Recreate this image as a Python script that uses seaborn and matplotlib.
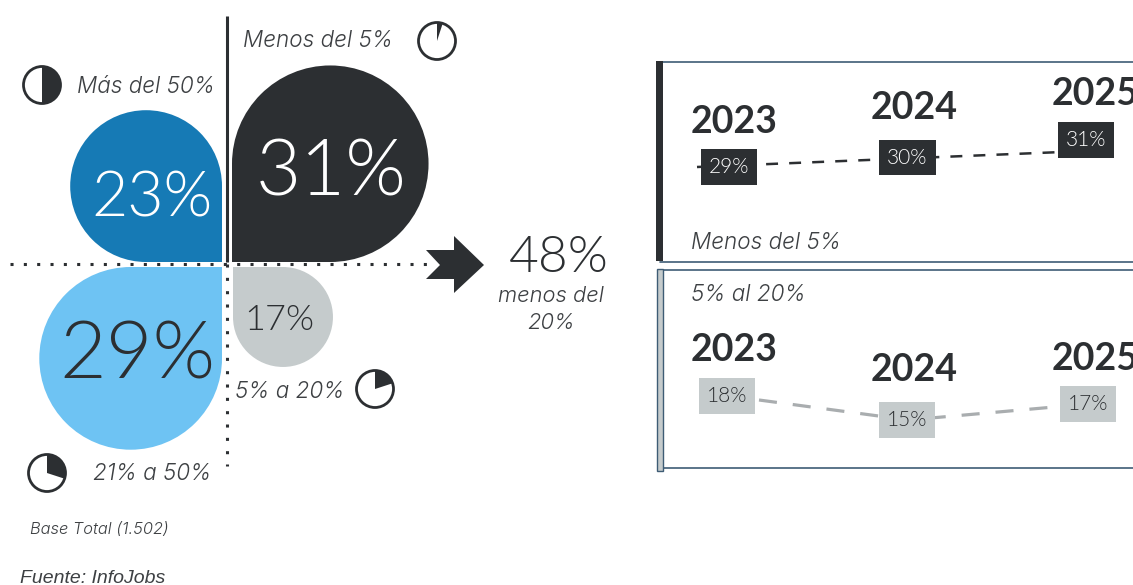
import matplotlib
matplotlib.use("Agg")
import matplotlib.pyplot as plt
from matplotlib.patches import Circle, Rectangle, Wedge, Polygon
import seaborn as sns

# Share of respondents per band
band_names = ["Menos del 5%", "Más del 50%", "21% a 50%", "5% a 20%"]
band_values = [31, 23, 29, 17]
band_labels = ["31%", "23%", "29%", "17%"]
icon_fractions = [0.05, 0.5, 0.3, 0.2]

# Yearly trend for the two lowest bands
years = [2023, 2024, 2025]
under5_values = [29, 30, 31]
from5to20_values = [18, 15, 17]
panel_names = ["Menos del 5%", "5% al 20%"]

summary_value = "48%"
summary_lines = ["menos del", "20%"]
base_note = "Base Total (1.502)"
source_note = "Fuente: InfoJobs"

W, H = 1133, 585
DARK = "#2c2f32"
BLUE = "#167ab5"
SKY = "#6ec3f3"
GREY = "#c5cbcc"
LINE_GREY = "#a9adaf"
FRAME = "#3e5c75"
TEXT = "#3d4043"
NUM_FONT = "Lato"
CAPTION_FONT = "Inter"
LIGHT = 300

sns.set_theme(style="white", rc={"lines.scale_dashes": False})
plt.rcParams["font.family"] = [NUM_FONT, "DejaVu Sans"]

fig = plt.figure(figsize=(W / 100, H / 100), dpi=100, facecolor="white")
canvas = fig.add_axes([0, 0, 1, 1])
canvas.set_xlim(0, W)
canvas.set_ylim(H, 0)
canvas.set_axis_off()


def drop(corner, sx, sy, value, scale, color):
    """Circle with one squared corner, its radius following the value."""
    r = scale * value
    cx, cy = corner[0] + sx * r, corner[1] + sy * r
    canvas.add_patch(Circle((cx, cy), r, fc=color, ec="none"))
    canvas.add_patch(Rectangle((min(corner[0], cx), min(corner[1], cy)), r, r, fc=color, ec="none"))


def pie_icon(cx, cy, fraction):
    canvas.add_patch(Wedge((cx, cy), 18.5, -90, -90 + 360 * fraction, fc=DARK, ec="none"))
    canvas.add_patch(Circle((cx, cy), 18.5, fc="none", ec=DARK, lw=2.0))


def caption(x, y, text, size=16.2, ha="left"):
    canvas.text(x, y, text, ha=ha, va="center", fontsize=size, style="italic", color=TEXT,
                fontweight=LIGHT, family=CAPTION_FONT)


corners = [((232, 262), 1, -1), ((222, 262), -1, -1), ((222, 267), -1, 1), ((233, 267), 1, 1)]
fills = [DARK, BLUE, SKY, GREY]
drop_scales = [3.17, 3.30, 3.15, 2.94]
for (corner, sx, sy), value, scale, color in zip(corners, band_values, drop_scales, fills):
    drop(corner, sx, sy, value, scale, color)

# Quadrant guides
canvas.plot([227, 227], [16, 262], color=DARK, lw=2.2, solid_capstyle="butt")
canvas.plot([10, 432], [264, 264], color=DARK, lw=2.2, linestyle=(0, (2.2, 7.4)), zorder=1.5)
canvas.plot([227, 227], [264, 466], color=DARK, lw=2.2, linestyle=(0, (2.2, 7.4)))

# Values inside the drops
label_spots = [(331, 174, 56, "white"), (152, 199, 45, "white"), (137, 356, 58, DARK), (279, 320, 26, DARK)]
for text, (x, y, size, color) in zip(band_labels, label_spots):
    canvas.text(x, y, text, ha="center", va="center", fontsize=size, color=color, fontweight=LIGHT)

# Band captions and their pie icons
caption_spots = [(243, 41), (77, 87), (93, 474), (235, 392)]
for name, (x, y) in zip(band_names, caption_spots):
    caption(x, y, name)
icon_spots = [(437, 41), (42, 85), (47, 473), (375, 389)]
for (x, y), fraction in zip(icon_spots, icon_fractions):
    pie_icon(x, y, fraction)

# Summary arrow and figure
canvas.add_patch(Polygon([(426, 250), (454, 250), (454, 236), (484, 265), (454, 293), (454, 279), (426, 279), (440, 265)],
                         closed=True, fc=DARK, ec="none", zorder=3))
canvas.text(559, 258, summary_value, ha="center", va="center", fontsize=37, color=DARK, fontweight=LIGHT)
for line, y in zip(summary_lines, [296, 323]):
    caption(551, y, line, size=15.8, ha="center")

caption(30, 530, base_note, size=11.8)
canvas.text(20, 578.5, source_note, ha="left", va="center", fontsize=14, style="italic", color=TEXT,
            family="Liberation Sans")

# Panel frames
for top, bottom in [(62, 262), (270, 468)]:
    canvas.plot([660, W], [top, top], color=FRAME, lw=1.2)
    canvas.plot([660, W], [bottom, bottom], color=FRAME, lw=1.2)
canvas.add_patch(Rectangle((656, 61), 7, 200, fc=DARK, ec="none", zorder=3))
canvas.add_patch(Rectangle((656.5, 268.5), 6, 202, fc=GREY, ec=FRAME, lw=1, zorder=3))

caption(691, 243, panel_names[0])
caption(691, 295, panel_names[1])


def trend(values, left, right, top, bottom, line_color, lw, dash, box_color, text_color, offsets):
    ax = fig.add_axes([left / W, 1 - bottom / H, (right - left) / W, (bottom - top) / H])
    sns.lineplot(x=years, y=values, ax=ax, color=line_color, errorbar=None,
                 linewidth=lw, linestyle=(0, dash), clip_on=False)
    ax.get_lines()[0].set_dash_capstyle("butt")
    ax.set_xlim(years[0], years[-1])
    ax.set_ylim(min(values), max(values))
    ax.set_axis_off()
    for year, value, (dx, dy) in zip(years, values, offsets):
        ax.annotate(f"{value}%", xy=(year, value), xytext=(dx, -dy), textcoords="offset pixels",
                    ha="center", va="center", fontsize=15, color=text_color, annotation_clip=False,
                    fontweight=LIGHT, bbox=dict(boxstyle="square,pad=0.38", fc=box_color, ec="none"), zorder=4)


trend(under5_values, 697, 1062, 152, 167, DARK, 1.8, (8.6, 8.0), DARK, "white",
      [(32, 0), (28, -2), (24, -12)])
trend(from5to20_values, 759, 1058, 400, 420, LINE_GREY, 2.3, (13, 11.5), GREY, DARK,
      [(-32, -4), (-1.5, 0), (30, -3)])

# Year headings
year_spots = [(691, 122), (871, 108), (1052, 94), (691, 350), (871, 370), (1052, 359)]
for year, (x, y) in zip(years * 2, year_spots):
    canvas.text(x, y, str(year), ha="left", va="center", fontsize=27, fontweight="bold", color=DARK)

fig.savefig("out.png", dpi=100, facecolor="white")
